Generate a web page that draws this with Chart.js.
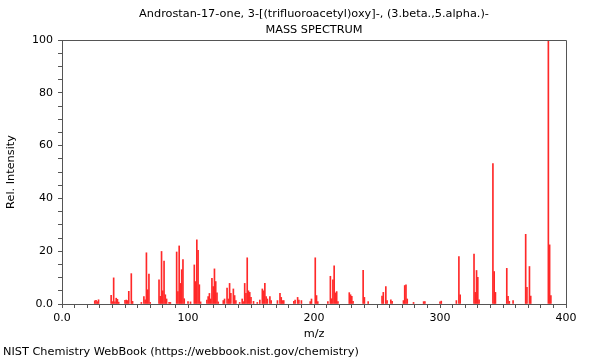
<!DOCTYPE html>
<html>
<head>
<meta charset="utf-8">
<script src="https://cdn.jsdelivr.net/npm/chart.js@4.4.0/dist/chart.umd.min.js"></script>
<style>
  html, body { margin: 0; padding: 0; background: #fff; }
</style>
</head>
<body>
<canvas id="chart" width="600" height="360"></canvas>
<script>
const titleLines = ["Androstan-17-one, 3-[(trifluoroacetyl)oxy]-, (3.beta.,5.alpha.)-", "MASS SPECTRUM"];
const footerText = "NIST Chemistry WebBook (https://webbook.nist.gov/chemistry)";
const xTitle = "m/z";
const yTitle = "Rel. Intensity";

// peaks
const mz = [
    26, 27, 28, 29, 39, 40, 41, 42, 43, 44, 45, 50, 51, 52, 53, 55, 56,
    63, 65, 66, 67, 68, 69, 70, 77, 78, 79, 80, 81, 82, 83, 85, 86,
    91, 92, 93, 94, 95, 96, 97, 100, 102, 105, 106, 107, 108, 109, 110,
    115, 116, 117, 118, 119, 120, 121, 122, 123, 124, 128, 129, 131, 132,
    133, 134, 136, 137, 138, 141, 143, 144, 145, 146, 147, 148, 149, 150,
    152, 155, 157, 159, 160, 161, 162, 163, 165, 166, 171, 173, 174, 175,
    176, 184, 185, 187, 188, 190, 197, 198, 201, 202, 203, 211, 213, 214,
    215, 216, 217, 218, 219, 228, 229, 230, 231, 239, 240, 243, 254, 255,
    257, 258, 261, 262, 271, 272, 273, 274, 279, 287, 288, 300, 301, 313,
    315, 316, 327, 328, 329, 330, 331, 342, 343, 344, 353, 354, 355, 358,
    368, 369, 371, 372, 386, 387, 388,
];
const intensity = [
    1.2, 1.4, 0.9, 1.6, 3.3, 0.9, 9.9, 0.8, 2.2, 1.8, 0.7, 1.4, 1.5, 1.3, 4.8, 11.5, 1.0,
    0.6, 2.8, 1.6, 19.4, 5.4, 11.3, 0.6, 9.2, 2.9, 19.9, 5.0, 16.3, 3.5, 1.9, 0.6, 0.6,
    19.7, 4.7, 22.0, 7.8, 13.0, 16.8, 2.0, 0.9, 0.8, 14.8, 8.5, 24.3, 20.3, 7.3, 0.8,
    1.5, 2.8, 4.0, 1.9, 9.7, 6.6, 13.3, 8.5, 4.2, 0.8, 1.3, 1.9, 6.0, 1.9,
    7.8, 4.0, 5.7, 3.2, 1.3, 0.6, 1.9, 0.9, 7.8, 4.0, 17.5, 5.0, 4.4, 2.5,
    1.0, 0.6, 1.5, 5.7, 5.0, 7.8, 2.8, 1.9, 2.8, 1.3, 1.3, 4.0, 2.5, 1.3,
    1.3, 1.0, 1.5, 2.5, 1.5, 1.3, 0.9, 1.9, 17.5, 3.2, 0.9, 0.9, 10.5, 2.0,
    9.2, 14.5, 4.2, 4.7, 0.9, 4.3, 3.5, 2.9, 1.0, 12.8, 2.5, 0.9, 3.0, 4.4,
    6.6, 1.3, 1.6, 1.0, 1.3, 7.0, 7.3, 1.9, 0.6, 0.9, 0.9, 0.8, 1.1, 1.3,
    18.0, 3.5, 18.9, 4.4, 12.7, 10.1, 1.6, 53.2, 12.3, 4.4, 13.5, 2.9, 1.0, 1.3,
    26.4, 6.3, 14.2, 3.0, 100, 22.4, 3.2,
];

const fontFamily = "'DejaVu Sans', sans-serif";
const axisColor = "#555";

// titles, footer, axis titles and the top/right frame
const texts = {
    id: "texts",
    afterDraw(chart) {
        const ctx = chart.ctx;
        const a = chart.chartArea;
        const cx = (a.left + a.right) / 2;
        ctx.save();
        ctx.strokeStyle = axisColor;
        ctx.lineWidth = 1;
        ctx.beginPath();
        ctx.moveTo(a.left, a.top + 0.5);
        ctx.lineTo(a.right + 0.5, a.top + 0.5);
        ctx.lineTo(a.right + 0.5, a.bottom);
        ctx.stroke();

        ctx.fillStyle = "#000";
        ctx.font = "11.3px " + fontFamily;
        ctx.textAlign = "center";
        ctx.textBaseline = "middle";
        ctx.fillText(titleLines[0], cx, 14);
        ctx.fillText(titleLines[1], cx, 30);
        ctx.fillText(xTitle, cx, 334);
        ctx.textAlign = "left";
        ctx.fillText(footerText, 3, 352);
        ctx.translate(11, (a.top + a.bottom) / 2);
        ctx.rotate(-Math.PI / 2);
        ctx.textAlign = "center";
        ctx.fillText(yTitle, 0, 0);
        ctx.restore();
    },
};

new Chart(document.getElementById("chart"), {
    type: "bar",
    data: {
        datasets: [
            {
                data: mz.map((m, i) => ({ x: m, y: intensity[i] })),
                backgroundColor: "rgb(255, 40, 40)",
                borderWidth: 0,
                barThickness: 1,
            },
        ],
    },
    options: {
        responsive: false,
        animation: false,
        layout: { padding: { top: 40, right: 34, left: 0, bottom: 0 } },
        plugins: { legend: { display: false }, tooltip: { enabled: false } },
        scales: {
            x: {
                type: "linear",
                min: 0,
                max: 400,
                offset: false,
                afterFit(s) { s.height = 56; },
                grid: { drawOnChartArea: false, offset: false, tickLength: 4, color: axisColor },
                border: { color: axisColor },
                ticks: {
                    stepSize: 10,
                    autoSkip: false,
                    maxRotation: 0,
                    padding: 4,
                    color: "#000",
                    font: { family: fontFamily, size: 11 },
                    callback: (v) => (v % 100 === 0 ? (v === 0 ? "0.0" : String(v)) : ""),
                },
            },
            y: {
                min: 0,
                max: 100,
                afterFit(s) { s.width = 62; },
                grid: { drawOnChartArea: false, tickLength: 4, color: axisColor },
                border: { color: axisColor },
                ticks: {
                    stepSize: 5,
                    autoSkip: false,
                    padding: 5,
                    color: "#000",
                    font: { family: fontFamily, size: 11 },
                    callback: (v) => (v % 20 === 0 ? (v === 0 ? "0.0" : String(v)) : ""),
                },
            },
        },
    },
    plugins: [texts],
});
</script>
</body>
</html>
